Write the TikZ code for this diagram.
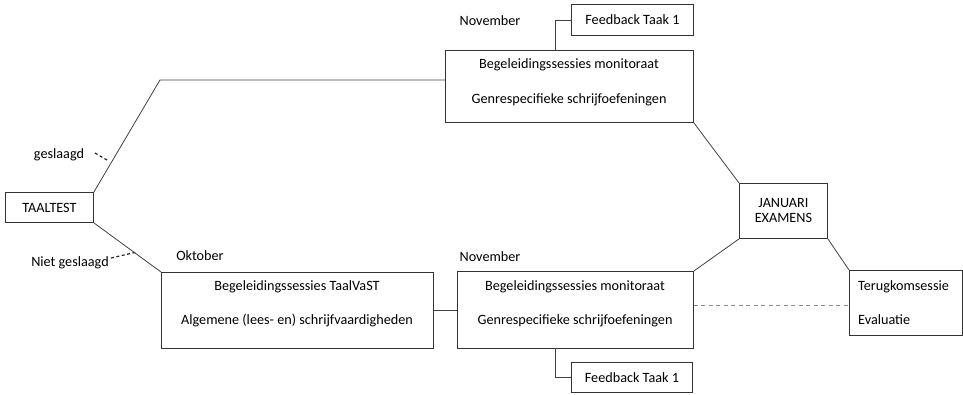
\documentclass[tikz,border=0pt]{standalone}
\usepackage{fontspec}
\setmainfont{Carlito}
\begin{document}
\begin{tikzpicture}[x=1pt,y=-1pt,
  every node/.style={font=\fontsize{14.2}{16}\selectfont, text=black},
  box/.style={draw=black!80, line width=0.9pt, rectangle, inner sep=0pt},
  conn/.style={draw=black!75, line width=0.8pt},
  lbl/.style={inner sep=0pt},
  tick/.style={draw=black!85, line width=1.2pt, dash pattern=on 3pt off 2.5pt}]
\useasboundingbox (0,0) rectangle (963,395);
% boxes
\node[box, minimum width=88, minimum height=30, anchor=north west] (taal) at (5,192) {TAALTEST};
\node[box, minimum width=248, minimum height=72, anchor=north west] (top) at (445,50) {};
\node[lbl] (topa) at (569,65) {Begeleidingssessies monitoraat};
\node[lbl] (topb) at (569,100) {Genrespecifieke schrijfoefeningen};
\node[box, minimum width=122, minimum height=31, anchor=north west] (fbtop) at (571,4) {Feedback Taak 1};
\node[lbl] (novtop) at (490,21) {November};
\node[box, minimum width=88, minimum height=55, anchor=north west, align=center] (jan) at (739,183) {JANUARI\\[-1pt]EXAMENS};
\node[box, minimum width=272, minimum height=76, anchor=north west] (b1) at (161,272) {};
\node[lbl] (b1a) at (297,287) {Begeleidingssessies TaalVaST};
\node[lbl] (b1b) at (297,321) {Algemene (lees- en) schrijfvaardigheden};
\node[lbl] (okt) at (200,256) {Oktober};
\node[box, minimum width=236, minimum height=77, anchor=north west] (b2) at (457,271) {};
\node[lbl] (b2a) at (575,287) {Begeleidingssessies monitoraat};
\node[lbl] (b2b) at (575,321) {Genrespecifieke schrijfoefeningen};
\node[lbl] (novbot) at (490,257) {November};
\node[box, minimum width=121, minimum height=30, anchor=north west] (fbbot) at (571,362) {Feedback Taak 1};
\node[box, minimum width=113, minimum height=65, anchor=north west] (terug) at (849,270) {};
\node[lbl, anchor=west] (ta) at (858,287) {Terugkomsessie};
\node[lbl, anchor=west] (tb) at (858,320) {Evaluatie};
% labels
\node[lbl] (gesl) at (59,155) {geslaagd};
\node[lbl] (niet) at (70,263) {Niet geslaagd};
\coordinate (g1) at (95,153);
\coordinate (g2) at (107,160);
\coordinate (n1) at (111,258);
\coordinate (n2) at (137,252);
\draw[tick] (g1) -- (g2);
\draw[tick] (n1) -- (n2);
% connectors
\coordinate (bend) at (160,80);
\draw[conn] (taal.north east) -- (bend) -- (top.west |- bend);
\draw[conn] (taal.south east) -- (b1.north west);
\draw[conn] (top.south east) -- (jan.north west);
\draw[conn] (jan.south west) -- (b2.north east);
\draw[conn] (jan.south east) -- (terug.north west);
\draw[conn] (b1.east) -- (b2.west |- b1.east);
\coordinate (tj) at (555,50);
\draw[conn] (tj) |- (fbtop.west);
\coordinate (bj) at (555,348);
\draw[conn] (bj) |- (fbbot.west);
\draw[draw=black!45, line width=0.6pt, dash pattern=on 4pt off 3.5pt] (b2.east |- 0,305) -- (terug.west |- 0,305);
\end{tikzpicture}
\end{document}
